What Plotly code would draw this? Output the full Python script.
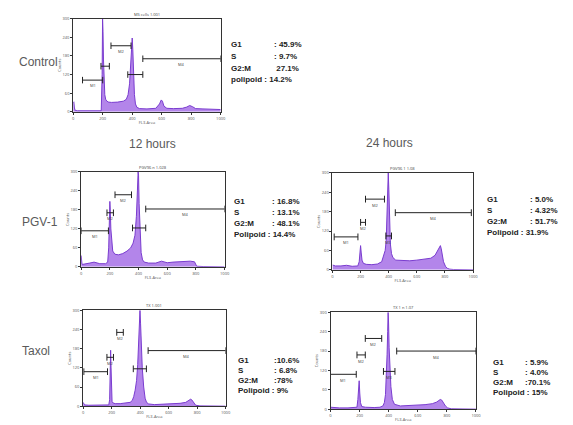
import plotly.graph_objects as go

# ---------------- data ----------------
tick_vals = [0, 200, 400, 600, 800, 1000]
tick_text = ["0", "200", "400", "600", "800", "1000"]

control_x = [0, 4, 8, 14, 30, 100, 190, 196, 199, 202, 205, 209, 214, 220, 228, 240, 260, 300, 340, 360, 372, 382, 390, 396, 400, 404, 409, 415, 422, 432, 450, 500, 560, 585, 597, 605, 615, 635, 680, 740, 770, 790, 810, 830, 880, 950, 1000]
control_y = [30, 32, 12, 4, 3, 3, 3, 120, 300, 260, 170, 95, 55, 40, 34, 31, 30, 31, 34, 40, 55, 90, 150, 210, 238, 200, 120, 55, 25, 14, 10, 9, 11, 25, 38, 34, 18, 11, 10, 11, 15, 20, 16, 10, 9, 8, 7]

pgv12_x = [0, 3, 6, 12, 30, 60, 90, 110, 130, 170, 185, 192, 197, 200, 203, 207, 212, 220, 235, 260, 290, 320, 345, 362, 375, 385, 392, 397, 400, 404, 410, 418, 428, 440, 470, 520, 560, 580, 600, 640, 700, 760, 790, 800, 805, 850, 1000]
pgv12_y = [36, 10, 8, 8, 9, 12, 15, 12, 10, 10, 15, 60, 160, 207, 180, 120, 75, 50, 40, 38, 42, 50, 60, 75, 100, 160, 240, 300, 290, 200, 110, 45, 22, 15, 12, 12, 18, 15, 13, 15, 16, 18, 16, 8, 2, 1, 0]

pgv24_x = [0, 20, 60, 100, 140, 180, 190, 196, 200, 204, 210, 220, 240, 280, 320, 350, 365, 375, 382, 388, 393, 397, 401, 406, 412, 420, 430, 450, 500, 550, 600, 650, 700, 730, 750, 760, 768, 774, 780, 790, 805, 820, 835, 860, 1000]
pgv24_y = [15, 12, 12, 14, 11, 12, 25, 55, 75, 55, 30, 20, 17, 16, 18, 25, 45, 60, 90, 180, 270, 300, 250, 150, 80, 50, 38, 30, 28, 28, 30, 32, 36, 45, 60, 70, 75, 65, 50, 25, 10, 4, 2, 1, 0]

taxol12_x = [0, 4, 10, 40, 100, 160, 180, 186, 190, 193, 196, 199, 203, 210, 225, 260, 300, 330, 345, 355, 365, 375, 383, 390, 395, 399, 403, 408, 415, 425, 435, 445, 460, 500, 560, 620, 680, 720, 745, 755, 762, 770, 780, 790, 820, 1000]
taxol12_y = [12, 5, 4, 3, 3, 3, 4, 20, 90, 175, 120, 40, 15, 10, 8, 8, 9, 12, 18, 30, 50, 80, 130, 200, 270, 300, 260, 190, 120, 60, 25, 12, 7, 5, 6, 7, 9, 12, 18, 22, 20, 15, 8, 3, 1, 0]

taxol24_x = [0, 20, 60, 120, 170, 182, 188, 193, 197, 201, 206, 215, 240, 300, 340, 360, 370, 378, 384, 389, 393, 396, 399, 403, 408, 415, 425, 440, 480, 540, 600, 650, 700, 730, 745, 755, 765, 775, 790, 805, 830, 1000]
taxol24_y = [6, 5, 4, 4, 4, 6, 30, 80, 88, 50, 20, 8, 6, 5, 6, 10, 20, 45, 100, 170, 240, 300, 270, 190, 130, 70, 30, 15, 10, 11, 12, 14, 17, 22, 27, 30, 28, 20, 10, 4, 1, 0]

# gates: (x0, x1, y, label)
control_gates = [(63, 200, 102, "M1"), (188, 245, 147, ""), (256, 392, 213, "M2"), (370, 472, 120, ""), (472, 1000, 171, "M4")]
pgv12_gates = [(0, 190, 114, "M1"), (180, 225, 171, "M2"), (236, 351, 228, "M2"), (358, 450, 123, ""), (450, 1000, 183, "M4")]
pgv24_gates = [(12, 181, 102, "M1"), (200, 235, 147, "M2"), (235, 370, 219, "M2"), (380, 420, 105, "M3"), (447, 988, 177, "M4")]
taxol12_gates = [(5, 171, 108, "M1"), (167, 213, 153, "M2"), (236, 282, 231, "M2"), (352, 444, 117, ""), (456, 1000, 174, "M4")]
taxol24_gates = [(0, 177, 108, "M1"), (182, 239, 168, "M2"), (239, 352, 219, "M2"), (364, 443, 117, "M3"), (455, 1000, 180, "M4")]

panel_titles = ["MS cells 1.001", "PGV96 n 1.028", "PGV96 1 1.08", "TX 1.001", "TX 1 n 1.07"]

row_labels = ["G1", "S", "G2:M"]
control_vals = [": 45.9%", ": 9.7%", " 27.1%", "polipoid : 14.2%"]
pgv12_vals = [": 16.8%", ": 13.1%", ": 48.1%", "Polipoid : 14.4%"]
pgv24_vals = [": 5.0%", ": 4.32%", ": 51.7%", "Polipoid : 31.9%"]
taxol12_vals = [":10.6%", ": 6.8%", ":78%", "Polipoid : 9%"]
taxol24_vals = [": 5.9%", ": 4.0%", ":70.1%", "Polipoid : 15%"]

# ---------------- layout helpers ----------------
W, H = 573, 425
FILL = "#b385ea"
LINE = "#7a3ccf"

def fx(p):
    return p / W

def fy(p):
    return 1 - p / H

panels = [
    dict(x=control_x, y=control_y, gates=control_gates, box=(73, 222, 16, 110), title=panel_titles[0], ymax=300),
    dict(x=pgv12_x, y=pgv12_y, gates=pgv12_gates, box=(81, 226, 171, 267), title=panel_titles[1], ymax=300),
    dict(x=pgv24_x, y=pgv24_y, gates=pgv24_gates, box=(335, 477, 172, 270), title=panel_titles[2], ymax=300),
    dict(x=taxol12_x, y=taxol12_y, gates=taxol12_gates, box=(83, 227, 311, 408), title=panel_titles[3], ymax=300),
    dict(x=taxol24_x, y=taxol24_y, gates=taxol24_gates, box=(333, 480, 313, 411), title=panel_titles[4], ymax=300),
]

fig = go.Figure()
annotations = []
layout_axes = {}

for i, p in enumerate(panels):
    n = "" if i == 0 else str(i + 1)
    xa, ya = "x" + n, "y" + n
    x0, x1, y0, y1 = p["box"]
    fig.add_trace(go.Scatter(x=p["x"], y=p["y"], xaxis=xa, yaxis=ya, mode="lines",
                             fill="tozeroy", fillcolor=FILL, line=dict(color=LINE, width=1),
                             hoverinfo="skip", showlegend=False))
    gx, gy = [], []
    h = p["ymax"] * 0.035
    for (a, b, yy, lab) in p["gates"]:
        gx += [a, b, None, a, a, None, b, b, None]
        gy += [yy, yy, None, yy - h, yy + h, None, yy - h, yy + h, None]
        if lab:
            annotations.append(dict(x=(a + b) / 2, y=yy - h * 1.8, xref=xa, yref=ya, text=lab,
                                    xanchor="center", yanchor="middle",
                                    showarrow=False, font=dict(size=4, color="#444")))
    fig.add_trace(go.Scatter(x=gx, y=gy, xaxis=xa, yaxis=ya, mode="lines",
                             line=dict(color="#222", width=1), hoverinfo="skip", showlegend=False))
    axis_common = dict(showline=True, linecolor="#333", linewidth=1, mirror=True, showgrid=False,
                       zeroline=False, ticks="outside", ticklen=2, tickcolor="#333",
                       tickfont=dict(size=4, color="#555"))
    layout_axes["xaxis" + n] = dict(domain=[fx(x0), fx(x1)], anchor=ya, range=[0, 1000],
                                    tickvals=tick_vals, ticktext=tick_text,
                                    title=dict(text="FL3-Area", font=dict(size=4, color="#555"), standoff=1),
                                    **axis_common)
    layout_axes["yaxis" + n] = dict(domain=[fy(y1), fy(y0)], anchor=xa, range=[0, p["ymax"]],
                                    tickvals=[0, 60, 120, 180, 240, 300],
                                    title=dict(text="Counts", font=dict(size=4, color="#555"), standoff=1),
                                    **axis_common)
    annotations.append(dict(x=fx((x0 + x1) / 2), y=fy(y0), xref="paper", yref="paper",
                            xanchor="center", yanchor="bottom",
                            text=p["title"], showarrow=False, font=dict(size=4, color="#444")))

# row labels and stats
LABEL_FONT = dict(family="Liberation Sans", size=12, color="#5a5a5a")
for txt, cx, cy in [("Control", 38, 60), ("PGV-1", 39, 222), ("Taxol", 35, 352),
                    ("12 hours", 153, 143), ("24 hours", 393, 142)]:
    annotations.append(dict(x=fx(cx), y=fy(cy), xref="paper", yref="paper", text=txt,
                            xanchor="center", yanchor="middle",
                            showarrow=False, font=LABEL_FONT))

STAT_FONT = dict(family="Liberation Sans", size=8, color="#222")
stat_blocks = [
    (control_vals, 230, 274, [42, 54, 66, 77]),
    (pgv12_vals, 233, 272, [201, 212, 223, 234]),
    (pgv24_vals, 489, 533, [199, 210, 221, 232]),
    (taxol12_vals, 237, 274, [362, 372, 382, 392]),
    (taxol24_vals, 495, 528, [364, 374, 384, 394]),
]
for vals, lx, vx, rows in stat_blocks:
    for k in range(3):
        annotations.append(dict(x=fx(lx), y=fy(rows[k]), xref="paper", yref="paper",
                                xanchor="left", yanchor="middle",
                                text="<b>" + row_labels[k] + "</b>", showarrow=False, font=STAT_FONT))
        annotations.append(dict(x=fx(vx), y=fy(rows[k]), xref="paper", yref="paper",
                                xanchor="left", yanchor="middle",
                                text="<b>" + vals[k] + "</b>", showarrow=False, font=STAT_FONT))
    annotations.append(dict(x=fx(lx), y=fy(rows[3]), xref="paper", yref="paper",
                            xanchor="left", yanchor="middle",
                            text="<b>" + vals[3] + "</b>", showarrow=False, font=STAT_FONT))

fig.update_layout(width=W, height=H, margin=dict(l=0, r=0, t=0, b=0),
                  paper_bgcolor="white", plot_bgcolor="white",
                  annotations=annotations, **layout_axes)

fig.write_html("out.html", config={"displayModeBar": False},
               post_script="document.body.style.margin='0';document.body.style.overflow='hidden';")
